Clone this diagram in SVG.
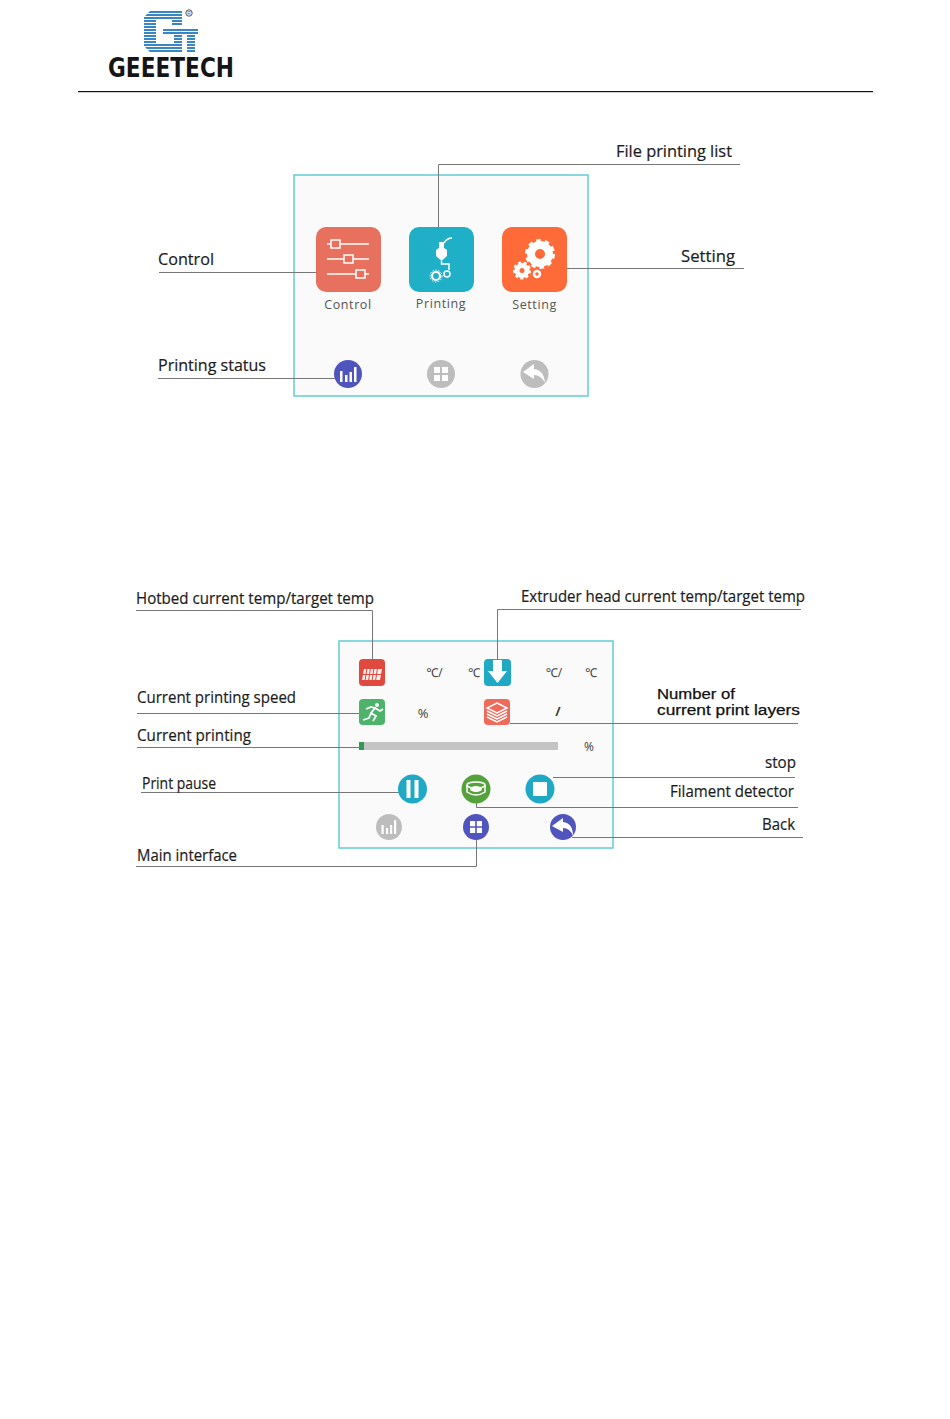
<svg xmlns="http://www.w3.org/2000/svg" width="950" height="1419" viewBox="0 0 950 1419">
<style>
.lb{font-family:"Open Sans","Noto Sans",sans-serif;font-size:16px;fill:#1c1c1c;stroke:#1c1c1c;stroke-width:.2px}
.lc{font-family:"Liberation Sans",Arial,sans-serif;font-size:13.8px;fill:#111;stroke:#111;stroke-width:.25px}
.ui{font-family:"Open Sans","Noto Sans",sans-serif;font-size:12.5px;fill:#555;letter-spacing:.6px;text-anchor:middle}
.un{font-family:"Open Sans","Noto Sans",sans-serif;font-size:12px;fill:#3c3c3c;text-anchor:middle}
.ln{fill:none;stroke:#777;stroke-width:1}
.pn{fill:#f9faf9;stroke:#62cdd2;stroke-width:1.5}
.w{fill:#fff}.ws{fill:none;stroke:#fff;stroke-width:1.5}
.g{fill:#bdbdbd}.b{fill:#4f55bd}.t{fill:#1fa9c4}
</style>
<defs>
<clipPath id="logoClip"><path d="M150 11H182V25H172V20H156V44H174V35H163V28H198V35H195V52H187V35H182V52H150L144 46V17Z"/></clipPath>
</defs>
<rect width="950" height="1419" fill="#fff"/>
<g id="logo">
<g clip-path="url(#logoClip)" fill="#3a86c4"><rect x="144" y="11" width="54" height="2"/><rect x="144" y="14" width="54" height="2"/><rect x="144" y="17" width="54" height="2"/><rect x="144" y="20" width="54" height="2"/><rect x="144" y="23" width="54" height="2"/><rect x="144" y="26" width="54" height="2"/><rect x="144" y="29" width="54" height="2"/><rect x="144" y="32" width="54" height="2"/><rect x="144" y="35" width="54" height="2"/><rect x="144" y="38" width="54" height="2"/><rect x="144" y="41" width="54" height="2"/><rect x="144" y="44" width="54" height="2"/><rect x="144" y="47" width="54" height="2"/><rect x="144" y="50" width="54" height="2"/></g>
<circle cx="189" cy="13" r="3.2" fill="none" stroke="#555" stroke-width="1"/>
<text x="189" y="15" font-family="Liberation Sans,sans-serif" font-size="5" text-anchor="middle" fill="#555">R</text>
<text x="108" y="77" font-family="DejaVu Sans,sans-serif" font-weight="700" font-size="27" textLength="126" lengthAdjust="spacingAndGlyphs" fill="#151515">GEEETECH</text>
<rect x="78" y="91" width="795" height="1.2" fill="#111"/>
</g>
<g id="screen1"><rect class="pn" x="294" y="175" width="294" height="221"/></g>
<g id="screen2"><rect class="pn" x="339" y="641" width="274" height="207"/></g>
<g id="connectors">
<path class="ln" d="M438.500 227V164.500H740M159 272.500H316M567 268.500H744M158 378.500H335M136 610.500H372.500V660M497.500 660V609.500H801M137 713.500H359M510 723.500H798M137 747.500H359M141 792.500H399M553 777.500H795M476.500 803V807.500H798M572 837.500H803M136 866.500H476.500V840"/>
</g>
<g id="label-file-list"><text class="lb" x="616" y="157" textLength="116" lengthAdjust="spacingAndGlyphs">File printing list</text></g>
<g id="label-control"><text class="lb" x="158" y="265" textLength="56" lengthAdjust="spacingAndGlyphs">Control</text></g>
<g id="label-setting"><text class="lb" x="681" y="262" textLength="54" lengthAdjust="spacingAndGlyphs">Setting</text></g>
<g id="label-status"><text class="lb" x="158" y="371" textLength="108" lengthAdjust="spacingAndGlyphs">Printing status</text></g>
<g id="control"><rect x="316" y="227" width="65" height="65" rx="10" fill="#e8705f"/>
<path class="ws" d="M327 244H369M327 259H369M327 274H369"/>
<g fill="#e8705f" stroke="#fff" stroke-width="1.500"><rect x="331" y="240" width="9" height="8"/><rect x="344" y="255" width="9" height="8"/><rect x="356" y="270" width="9" height="8"/></g>
<text class="ui" x="348" y="309">Control</text></g>
<g id="printing"><rect x="409" y="227" width="65" height="65" rx="10" fill="#1fb0c8"/>
<path class="w" d="M439 242H444V248L447 250V256L441.500 261L436 256V250L439 248Z"/>
<path class="ws" d="M444 243Q447 238 452 238M441.500 261V264H449V270" stroke-width="1"/>
<circle cx="436" cy="276" r="4" fill="none" stroke="#fff" stroke-width="2.200"/><circle cx="436" cy="276" r="6" fill="none" stroke="#fff" stroke-width="1" stroke-dasharray="1.500 1.500"/><circle cx="447" cy="274" r="3" fill="none" stroke="#fff" stroke-width="1.500"/>
<text class="ui" x="441" y="308">Printing</text></g>
<g id="setting"><rect x="502" y="227" width="65" height="65" rx="10" fill="#ff6a39"/>
<circle cx="540" cy="254" r="9" fill="none" stroke="#fff" stroke-width="8"/>
<circle cx="540" cy="254" r="13.500" fill="none" stroke="#fff" stroke-width="3" stroke-dasharray="4.500 4"/>
<circle cx="522" cy="270.500" r="5" fill="none" stroke="#fff" stroke-width="5"/>
<circle cx="522" cy="270.500" r="8" fill="none" stroke="#fff" stroke-width="2" stroke-dasharray="3 2.600"/>
<circle cx="537" cy="274" r="3" fill="none" stroke="#fff" stroke-width="2.500"/>
<text class="ui" x="534.500" y="309">Setting</text></g>
<g id="status-btn"><circle class="b" cx="348" cy="374" r="14"/><path class="w" d="M340 371h2.500v11h-2.500zM345 375h2.500v7h-2.500zM349.500 372h2.500v10h-2.500zM354 367h2.500v15h-2.500z"/></g>
<g id="home-btn-grey"><circle class="g" cx="441" cy="374" r="14"/><path class="w" d="M434 367h6v6h-6zM442 367h6v6h-6zM434 375h6v6h-6zM442 375h6v6h-6z"/></g>
<g id="back-btn-grey"><circle class="g" cx="534.500" cy="374" r="14"/><path class="w" d="M534 364L523 372L534 379V375Q541 375 545 383Q544 370 534 369Z"/></g>

<g id="label-hotbed"><text class="lb" x="136" y="604" textLength="238" lengthAdjust="spacingAndGlyphs">Hotbed current temp/target temp</text></g>
<g id="label-extruder"><text class="lb" x="521" y="602" textLength="284" lengthAdjust="spacingAndGlyphs">Extruder head current temp/target temp</text></g>
<g id="label-speed"><text class="lb" x="137" y="703" textLength="159" lengthAdjust="spacingAndGlyphs">Current printing speed</text></g>
<g id="label-layers"><text class="lc" x="657" y="699" textLength="78" lengthAdjust="spacingAndGlyphs">Number of</text><text class="lc" x="657" y="715" textLength="143" lengthAdjust="spacingAndGlyphs">current print layers</text></g>
<g id="label-current"><text class="lb" x="137" y="741" textLength="114" lengthAdjust="spacingAndGlyphs">Current printing</text></g>
<g id="label-stop"><text class="lb" x="765" y="768" textLength="31" lengthAdjust="spacingAndGlyphs">stop</text></g>
<g id="label-pause"><text class="lb" x="142" y="789" textLength="74" lengthAdjust="spacingAndGlyphs">Print pause</text></g>
<g id="label-filament"><text class="lb" x="670" y="797" textLength="124" lengthAdjust="spacingAndGlyphs">Filament detector</text></g>
<g id="label-back"><text class="lb" x="762" y="830" textLength="33" lengthAdjust="spacingAndGlyphs">Back</text></g>
<g id="label-main"><text class="lb" x="137" y="861" textLength="100" lengthAdjust="spacingAndGlyphs">Main interface</text></g>

<g id="hotbed"><rect x="359" y="659" width="26" height="27" rx="4" fill="#e0493d"/><path class="w" d="M364 669H382L380 680H362Z" opacity=".9"/><path d="M367 668L365 681M370.500 668L368.500 681M374 668L372 681M377.500 668L375.500 681M362 674.500H382" stroke="#e0493d" stroke-width="1"/></g>
<g id="extruder"><rect x="484" y="659" width="27" height="27" rx="4" fill="#1fa9c4"/><path class="w" d="M493 660H502V671H507L497.500 683L488 671H493Z"/></g>
<g id="speed"><rect x="359" y="699" width="26" height="26" rx="4" fill="#4db36a"/><circle class="w" cx="377" cy="705" r="2"/><path d="M363 720L369 718L371 713L375 708L380 711L383 709M371 713L376 716L373 721M366 709L371 707L375 708" fill="none" stroke="#fff" stroke-width="1.800"/></g>
<g id="layers"><rect x="484" y="699" width="26" height="26" rx="4" fill="#f06a5b"/><path class="ws" d="M497 703L507 708L497 713L487 708ZM487 711L497 716L507 711M487 714L497 719L507 714M487 717L497 722L507 717" stroke-width="1.200"/></g>
<g id="temps"><text class="un" x="434.500" y="677">℃/</text><text class="un" x="474" y="677">℃</text><text class="un" x="554" y="677">℃/</text><text class="un" x="591" y="677">℃</text><text class="un" x="423" y="718" style="font-size:13px">%</text><text class="un" x="558" y="716" style="font-size:13px;font-weight:700">/</text><text class="un" x="589" y="751">%</text></g>
<g id="progress"><rect x="359" y="742" width="199" height="8" fill="#c3c4c3"/><rect x="359" y="742" width="5" height="8" fill="#2c9a52"/></g>
<g id="pause"><circle class="t" cx="412.500" cy="789" r="14.500"/><path class="w" d="M406.500 780h4v18h-4zM414.500 780h4v18h-4z"/></g>
<g id="filament"><circle cx="476" cy="789" r="14.500" fill="#55a23c"/><ellipse class="ws" cx="476" cy="785" rx="9" ry="3"/><path class="ws" d="M467 785V792Q476 798 485 792V785" stroke-width="2"/><ellipse class="w" cx="476" cy="789" rx="6" ry="3"/></g>
<g id="stop"><circle class="t" cx="540" cy="789" r="14.500"/><rect class="w" x="533" y="782" width="14" height="14" rx="1"/></g>
<g id="status-grey"><circle class="g" cx="389" cy="827" r="13"/><path class="w" d="M381.500 825h2.200v9h-2.200zM386 828h2.200v6h-2.200zM390 825h2.200v9h-2.200zM394 820h2.200v14h-2.200z"/></g>
<g id="home"><circle class="b" cx="476" cy="827" r="13"/><path class="w" d="M470 821h5.200v5.200h-5.200zM476.800 821h5.200v5.200h-5.200zM470 827.800h5.200v5.200h-5.200zM476.800 827.800h5.200v5.200h-5.200z"/></g>
<g id="back"><circle class="b" cx="563" cy="827" r="13"/><path class="w" d="M563 818L552 826L563 832V828Q570 828 573 836Q573 823 563 822Z"/></g>
</svg>
